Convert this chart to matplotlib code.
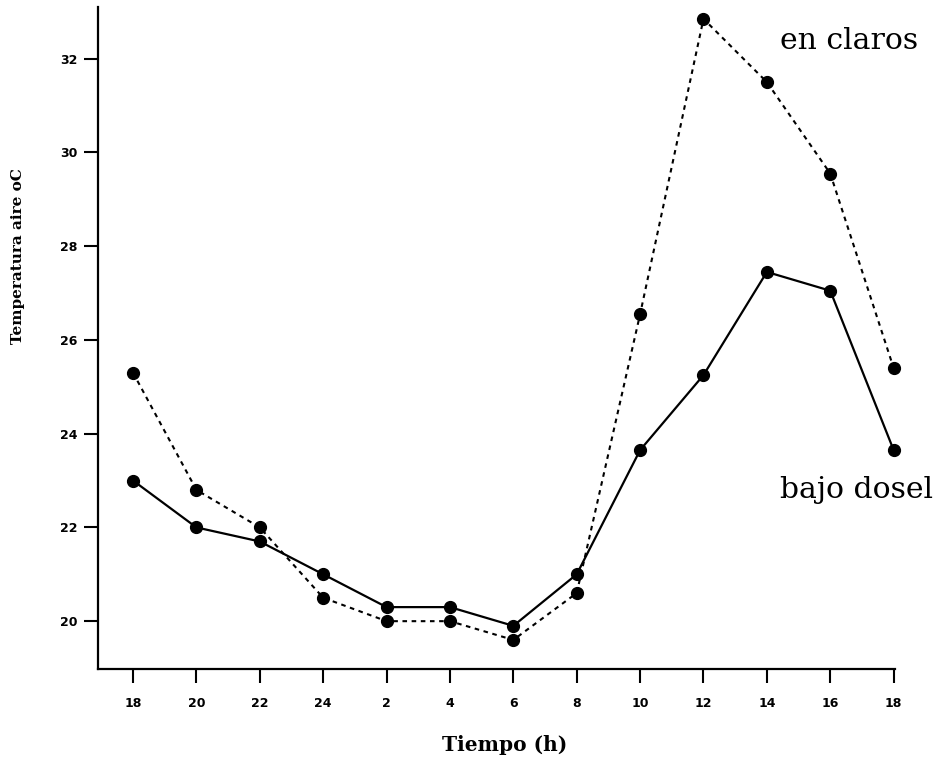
import matplotlib
matplotlib.use('Agg')
import matplotlib.pyplot as plt

# horas del dia (eje x categorico)
horas = ["18", "20", "22", "24", "2", "4", "6", "8", "10", "12", "14", "16", "18"]
en_claros = [25.3, 22.8, 22.0, 20.5, 20.0, 20.0, 19.6, 20.6, 26.55, 32.85, 31.5, 29.55, 25.4]
bajo_dosel = [23.0, 22.0, 21.7, 21.0, 20.3, 20.3, 19.9, 21.0, 23.65, 25.25, 27.45, 27.05, 23.65]
yticks = [20, 22, 24, 26, 28, 30, 32]

fig = plt.figure(figsize=(9.44, 7.59), dpi=100)
ax = fig.add_axes([0.104, 0.1186, 0.844, 0.872])

x = list(range(len(horas)))
ax.plot(x, en_claros, color='black', linestyle=(0, (2.2, 2.2)), linewidth=1.5,
        marker='o', markersize=8.5, zorder=3, clip_on=False)
ax.plot(x, bajo_dosel, color='black', linestyle='-', linewidth=1.6,
        marker='o', markersize=8.5, zorder=3, clip_on=False)

ax.set_xlim(-0.55, 12.02)
ax.set_ylim(18.98, 33.1)

ax.spines['top'].set_visible(False)
ax.spines['right'].set_visible(False)
ax.spines['left'].set_linewidth(1.6)
ax.spines['bottom'].set_linewidth(1.6)

ax.set_xticks(x)
ax.set_xticklabels(horas, fontsize=9, fontweight='bold', family='DejaVu Sans')
ax.set_yticks(yticks)
ax.set_yticklabels([str(v) for v in yticks], fontsize=9, fontweight='bold', family='DejaVu Sans')
ax.tick_params(axis='x', direction='out', length=10, width=1.5, pad=10)
ax.tick_params(axis='y', direction='out', length=10, width=1.5, pad=5)

fig.text(0.019, 0.663, "Temperatura aire oC", rotation=90, ha='center', va='center',
         fontsize=11, fontweight='bold', family='DejaVu Serif')
fig.text(0.535, 0.018, "Tiempo (h)", ha='center', va='center',
         fontsize=14.5, fontweight='bold', family='DejaVu Serif')

fig.text(0.826, 0.946, "en claros", ha='left', va='center', fontsize=21.5, family='DejaVu Serif')
fig.text(0.826, 0.354, "bajo dosel", ha='left', va='center', fontsize=21.5, family='DejaVu Serif')

fig.savefig('out.png', dpi=100, facecolor='white')
